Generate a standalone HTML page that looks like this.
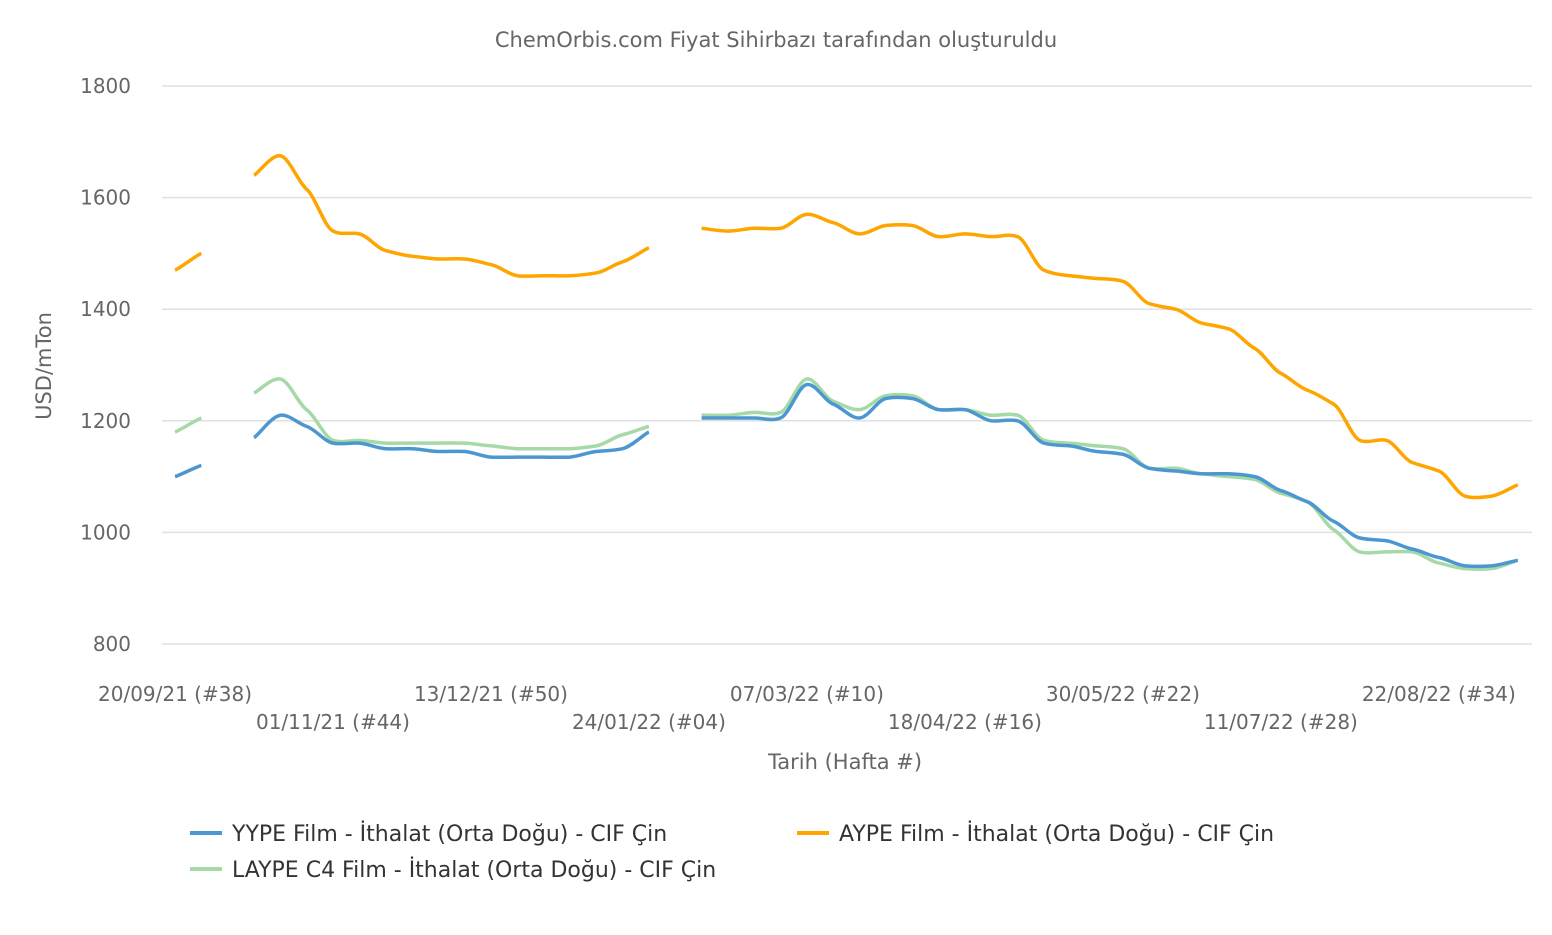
<!DOCTYPE html>
<html><head><meta charset="utf-8"><style>
body{margin:0;background:#fff;font-family:"Liberation Sans","DejaVu Sans",sans-serif;}
svg text{font-family:"DejaVu Sans","Liberation Sans",sans-serif;}
</style></head><body>
<svg id="chart" width="1552" height="930" xmlns="http://www.w3.org/2000/svg">
<text x="776" y="47" text-anchor="middle" font-size="21" fill="#666">ChemOrbis.com Fiyat Sihirbazı tarafından oluşturuldu</text>
<g id="grid"></g>
<g id="xt"></g>
<text transform="translate(51,366) rotate(-90)" text-anchor="middle" font-size="21" fill="#666">USD/mTon</text>
<text x="845" y="769" text-anchor="middle" font-size="21" fill="#666">Tarih (Hafta #)</text>
<g id="series"></g>
<g font-size="22" fill="#333">
<g><line x1="190" y1="833" x2="222" y2="833" stroke="#4d97d1" stroke-width="4"/><text x="232" y="841">YYPE Film - İthalat (Orta Doğu) - CIF Çin</text></g>
<g><line x1="797" y1="833" x2="829" y2="833" stroke="#ffa500" stroke-width="4"/><text x="839" y="841">AYPE Film - İthalat (Orta Doğu) - CIF Çin</text></g>
<g><line x1="190" y1="869" x2="222" y2="869" stroke="#a5d9a7" stroke-width="4"/><text x="232" y="877">LAYPE C4 Film - İthalat (Orta Doğu) - CIF Çin</text></g>
</g>
</svg>
<script>
const yTicks=[800,1000,1200,1400,1600,1800];
const xTickLabels=["20/09/21 (#38)","01/11/21 (#44)","13/12/21 (#50)","24/01/22 (#04)","07/03/22 (#10)","18/04/22 (#16)","30/05/22 (#22)","11/07/22 (#28)","22/08/22 (#34)"];
const xTickIndex=[0,6,12,18,24,30,36,42,48];
const aype=[1470,1500,null,1640,1675,1615,1540,1535,1505,1495,1490,1490,1480,1460,1460,1460,1465,1485,1510,null,1545,1540,1545,1545,1570,1555,1535,1550,1550,1530,1535,1530,1530,1470,1460,1455,1450,1410,1400,1375,1365,1330,1285,1255,1230,1165,1165,1125,1110,1065,1065,1085];
const yype=[1100,1120,null,1170,1210,1190,1160,1160,1150,1150,1145,1145,1135,1135,1135,1135,1145,1150,1180,null,1205,1205,1205,1205,1265,1230,1205,1240,1240,1220,1220,1200,1200,1160,1155,1145,1140,1115,1110,1105,1105,1100,1075,1055,1020,990,985,970,955,940,940,950];
const laype=[1180,1205,null,1250,1275,1220,1165,1165,1160,1160,1160,1160,1155,1150,1150,1150,1155,1175,1190,null,1210,1210,1215,1215,1275,1235,1220,1245,1245,1220,1220,1210,1210,1165,1160,1155,1150,1115,1115,1105,1100,1095,1070,1055,1005,965,965,965,945,935,935,950];
const NS="http://www.w3.org/2000/svg";
const xS=i=>175+i*26.33;
const yS=v=>644-(v-800)*(558/1000);
function mk(t,a,p){const e=document.createElementNS(NS,t);for(const k in a)e.setAttribute(k,a[k]);p.appendChild(e);return e;}
const grid=document.getElementById('grid');
yTicks.forEach(v=>{
 const l=mk('line',{x1:162,x2:1532,y1:yS(v),y2:yS(v),stroke:'#e0e0e0','stroke-width':1.5},grid);
 
 
 const t=mk('text',{x:131,y:yS(v)+7,'text-anchor':'end','font-size':20,fill:'#666'},grid);
 t.textContent=v;
 
 
});
const xt=document.getElementById('xt');
xTickLabels.forEach((s,k)=>{
 const t=mk('text',{x:xS(xTickIndex[k]),y:k%2?729:701,'text-anchor':'middle','font-size':20,fill:'#666'},xt);
 t.textContent=s;
 
 
});
function path(pts){
 if(pts.length<2)return '';
 let d='M'+pts[0][0]+','+pts[0][1];
 for(let i=0;i<pts.length-1;i++){
  const p0=pts[i-1]||pts[i],p1=pts[i],p2=pts[i+1],p3=pts[i+2]||p2;
  const c1=[p1[0]+(p2[0]-p0[0])/6,p1[1]+(p2[1]-p0[1])/6*0.6];
  const c2=[p2[0]-(p3[0]-p1[0])/6,p2[1]-(p3[1]-p1[1])/6*0.6];
  d+=' C'+c1+' '+c2+' '+p2;
 }
 return d;
}
const sg=document.getElementById('series');
[[laype,'#a5d9a7','laype'],[yype,'#4d97d1','yype'],[aype,'#ffa500','aype']].forEach(([arr,c,n])=>{
 let seg=[];const segs=[];
 arr.forEach((v,i)=>{if(v==null){if(seg.length)segs.push(seg);seg=[];}else seg.push([xS(i),yS(v)]);});
 if(seg.length)segs.push(seg);
 segs.forEach(s=>{
  const p=mk('path',{d:path(s),fill:'none',stroke:c,'stroke-width':3.5,'stroke-linejoin':'round'},sg);
  
  
 });
});
</script>
</body></html>
